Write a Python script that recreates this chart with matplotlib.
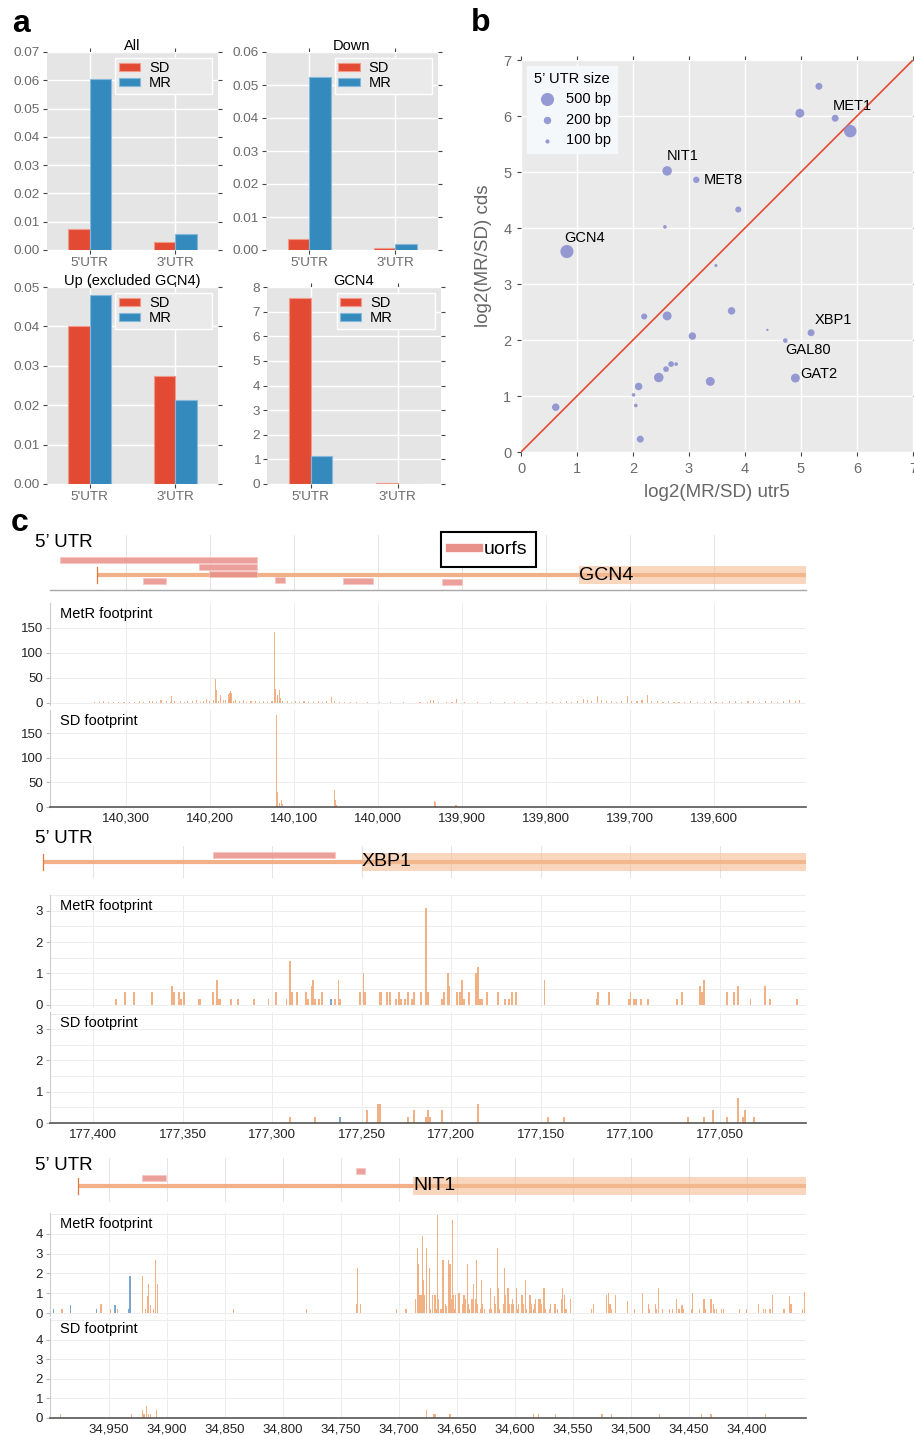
import numpy as np
import matplotlib
matplotlib.use('Agg')
import matplotlib.pyplot as plt
from matplotlib.patches import Rectangle
from matplotlib.lines import Line2D

plt.rcParams['font.family'] = ['Liberation Sans', 'DejaVu Sans']

W, H = 914, 1435

# ---------------- panel a : bar values
CATS = ["5'UTR", "3'UTR"]
ALL_SD = [0.0073, 0.0027]
ALL_MR = [0.0603, 0.0055]
DOWN_SD = [0.0032, 0.0005]
DOWN_MR = [0.0525, 0.0017]
UP_SD = [0.0400, 0.0275]
UP_MR = [0.0479, 0.0213]
GCN4_SD = [7.57, 0.04]
GCN4_MR = [1.12, 0.0]

# ---------------- panel b : scatter values
UTR5 = [0.82, 0.62, 2.61, 3.13, 3.88, 2.57, 3.48, 2.20, 2.61, 3.76,
        3.06, 4.40, 4.72, 5.18, 4.90, 3.38, 2.46, 2.10, 2.59, 2.68,
        2.77, 2.01, 2.05, 2.13, 4.98, 5.32, 5.61, 5.88]
CDS = [3.58, 0.80, 5.02, 4.86, 4.33, 4.02, 3.33, 2.42, 2.43, 2.52,
       2.07, 2.18, 1.99, 2.13, 1.32, 1.26, 1.33, 1.17, 1.48, 1.57,
       1.57, 1.02, 0.83, 0.23, 6.05, 6.53, 5.96, 5.73]
UTR_BP = [500, 200, 290, 160, 150, 90, 80, 150, 260, 200,
          200, 70, 110, 180, 260, 260, 290, 200, 140, 140,
          90, 90, 90, 180, 260, 180, 180, 460]
NAMES = ['GCN4', '', 'NIT1', 'MET8', '', '', '', '', '', '',
         '', '', 'GAL80', 'XBP1', 'GAT2', '', '', '', '', '',
         '', '', '', '', '', '', 'MET1', '']
SIZE_KEYS = [500, 200, 100]

# ---------------- panel c : gene models
GCN4_XLIM = (140390, 139491)
GCN4_TSS, GCN4_CDS = 140334, 139761
GCN4_U_START = [140378, 140213, 140201, 140279, 140123, 140042, 139924]
GCN4_U_END = [140144, 140144, 140144, 140252, 140110, 140006, 139900]
GCN4_U_LEVEL = [2.1, 1.1, 0.1, -0.9, -0.7, -0.9, -1.0]

XBP1_XLIM = (177424, 177002)
XBP1_TSS, XBP1_CDS = 177428, 177250
XBP1_U_START = [177333]
XBP1_U_END = [177265]
XBP1_U_LEVEL = [0.95]

NIT1_XLIM = (35001, 34349)
NIT1_TSS, NIT1_CDS = 34977, 34688
NIT1_U_START = [34922, 34737]
NIT1_U_END = [34901, 34729]
NIT1_U_LEVEL = [1.15, 2.1]

# ---------------- panel c : footprints (position, value)
GCN4_METR = [
    (140337, 2), (140331, 1), (140326, 3), (140320, 2), (140314, 1), (140309, 2), (140302, 1), (140296, 2),
    (140290, 1), (140284, 3), (140279, 2), (140272, 4), (140268, 3), (140263, 2), (140258, 5), (140252, 3),
    (140247, 2), (140245, 13), (140242, 4), (140235, 3), (140230, 2), (140226, 4), (140221, 3), (140216, 5),
    (140211, 2), (140207, 4), (140204, 8), (140200, 3), (140196, 6), (140193, 47), (140192, 25), (140190, 4),
    (140187, 15), (140184, 6), (140181, 5), (140178, 17), (140177, 8), (140176, 19), (140175, 23), (140174, 19),
    (140172, 4), (140169, 6), (140165, 3), (140160, 5), (140156, 2), (140151, 4), (140146, 3), (140141, 2),
    (140136, 3), (140131, 1), (140126, 4), (140123, 141), (140122, 28), (140120, 15), (140119, 11), (140117, 25),
    (140116, 10), (140113, 3), (140108, 4), (140103, 2), (140098, 3), (140093, 1), (140088, 3), (140083, 2),
    (140077, 1), (140071, 3), (140066, 2), (140061, 4), (140055, 11), (140052, 3), (140046, 2), (140040, 1),
    (140033, 2), (140026, 1), (140012, 1), (139998, 1), (139985, 2), (139970, 1), (139950, 1), (139941, 2),
    (139937, 5), (139934, 6), (139928, 2), (139919, 1), (139912, 2), (139907, 7), (139897, 1), (139882, 1),
    (139866, 1), (139850, 2), (139838, 1), (139822, 2), (139812, 1), (139800, 2), (139792, 1), (139783, 2),
    (139776, 3), (139770, 2), (139763, 4), (139756, 8), (139751, 5), (139746, 4), (139739, 13), (139734, 5),
    (139728, 3), (139722, 4), (139716, 2), (139710, 3), (139703, 13), (139698, 4), (139692, 3), (139686, 5),
    (139680, 15), (139675, 4), (139668, 3), (139661, 2), (139655, 3), (139648, 2), (139642, 1), (139636, 2),
    (139628, 3), (139620, 2), (139612, 1), (139605, 3), (139598, 2), (139590, 2), (139582, 4), (139575, 3),
    (139568, 2), (139560, 3), (139553, 4), (139546, 2), (139539, 3), (139532, 4), (139525, 2), (139518, 3),
    (139511, 5), (139504, 3), (139499, 6),
]
GCN4_SDFP = [
    (140230, 1), (140205, 1), (140185, 1), (140121, 187), (140119, 30), (140117, 8), (140115, 15), (140113, 7),
    (140052, 34), (140050, 15), (140049, 5), (139933, 13), (139932, 11), (139908, 5), (139907, 4), (139756, 2),
    (139690, 1), (139600, 1),
]

XBP1_METR_POS = [
    177387, 177382, 177377, 177367, 177356, 177355, 177352, 177351, 177349, 177341,
    177340, 177333, 177331, 177330, 177329, 177323, 177319, 177310, 177302, 177298,
    177292, 177290, 177289, 177286, 177281, 177280, 177278, 177277, 177276, 177274,
    177272, 177265, 177263, 177262, 177251, 177249, 177248, 177240, 177239, 177236,
    177234, 177231, 177229, 177228, 177226, 177224, 177222, 177221, 177217, 177214,
    177213, 177205, 177204, 177202, 177201, 177197, 177195, 177194, 177193, 177190,
    177186, 177185, 177184, 177183, 177180, 177174, 177170, 177168, 177166, 177164,
    177148, 177119, 177118, 177112, 177101, 177100, 177098, 177097, 177094, 177090,
    177074, 177071, 177061, 177060, 177059, 177046, 177042, 177040, 177033, 177025,
    177022, 177007]
XBP1_METR_VAL = [
    0.2, 0.4, 0.4, 0.4, 0.6, 0.4, 0.4, 0.2, 0.4, 0.2,
    0.2, 0.4, 0.8, 0.2, 0.2, 0.2, 0.2, 0.2, 0.2, 0.4,
    0.2, 1.4, 0.4, 0.4, 0.4, 0.2, 0.6, 0.8, 0.2, 0.2,
    0.4, 0.2, 0.8, 0.2, 0.4, 1.0, 0.4, 0.4, 0.4, 0.4,
    0.4, 0.2, 0.4, 0.2, 0.2, 0.4, 0.2, 0.4, 0.4, 3.1,
    0.4, 0.2, 0.4, 1.0, 0.6, 0.4, 0.4, 0.8, 0.2, 0.4,
    1.0, 1.2, 0.2, 0.2, 0.4, 0.4, 0.2, 0.2, 0.4, 0.4,
    0.8, 0.2, 0.4, 0.4, 0.2, 0.4, 0.2, 0.2, 0.2, 0.2,
    0.2, 0.4, 0.6, 0.4, 0.8, 0.4, 0.4, 0.6, 0.2, 0.6,
    0.2, 0.2]
XBP1_METR_BLUE = [(177267, 0.2)]
XBP1_SD_POS = [177290, 177276, 177247, 177241, 177240, 177224, 177221, 177214, 177213, 177212,
               177205, 177185, 177146, 177137, 177068, 177059, 177054, 177046, 177040, 177037,
               177036, 177031]
XBP1_SD_VAL = [0.2, 0.2, 0.4, 0.6, 0.6, 0.2, 0.4, 0.2, 0.4, 0.2,
               0.4, 0.6, 0.2, 0.2, 0.2, 0.2, 0.4, 0.2, 0.8, 0.2,
               0.4, 0.2]
XBP1_SD_BLUE = [(177262, 0.2)]

NIT1_METR = [
    (34991, 0.2), (34990, 0.2), (34957, 0.45), (34949, 0.2), (34943, 0.2), (34921, 1.85), (34919, 0.2),
    (34917, 0.85), (34916, 1.45), (34914, 0.4), (34912, 0.2), (34910, 2.7), (34908, 1.45), (34843, 0.2),
    (34780, 0.2), (34737, 0.45), (34736, 2.3), (34733, 0.45), (34702, 0.2),
    (34694, 0.2), (34686, 0.7), (34684, 3.3), (34683, 2.5), (34682, 0.9), (34681, 0.9), (34680, 3.9),
    (34679, 1.65), (34678, 0.9), (34676, 3.3), (34674, 2.3), (34673, 0.2), (34671, 0.9), (34669, 0.9),
    (34668, 0.2), (34667, 4.95), (34666, 0.7), (34664, 0.2), (34663, 0.2), (34662, 2.7), (34660, 0.45),
    (34659, 0.35), (34657, 2.7), (34656, 2.5), (34655, 0.7), (34654, 4.7), (34653, 0.9), (34652, 0.2),
    (34651, 0.9), (34649, 1.0), (34648, 1.0), (34645, 0.45), (34644, 0.9), (34643, 0.7), (34641, 2.5),
    (34640, 0.45), (34639, 0.2), (34637, 0.7), (34636, 1.45), (34634, 0.7), (34633, 2.7), (34632, 0.45),
    (34630, 0.2), (34629, 1.65), (34628, 0.45), (34626, 0.2), (34622, 0.2), (34621, 1.25), (34620, 0.2),
    (34618, 0.85), (34617, 0.45), (34615, 3.3), (34614, 1.25), (34613, 0.2), (34610, 0.45), (34609, 2.3),
    (34608, 0.9), (34606, 1.25), (34605, 0.45), (34603, 0.45), (34602, 0.7), (34601, 0.45), (34599, 1.25),
    (34598, 0.2), (34597, 0.45), (34594, 0.9), (34593, 0.45), (34591, 1.65), (34590, 0.2), (34587, 0.9),
    (34586, 0.45), (34584, 0.2), (34583, 0.45), (34582, 0.7), (34580, 0.7), (34579, 0.7), (34578, 0.7),
    (34577, 0.45), (34575, 1.25), (34574, 0.2), (34570, 0.2), (34569, 0.45), (34566, 0.45), (34565, 0.45),
    (34563, 0.2), (34560, 0.7), (34559, 1.25), (34557, 0.9), (34556, 0.2), (34552, 0.7), (34534, 0.2),
    (34532, 0.45), (34521, 0.9), (34519, 1.0), (34518, 0.45), (34517, 0.2), (34513, 0.9), (34503, 0.6),
    (34497, 0.2), (34490, 1.0), (34485, 0.45), (34484, 0.2), (34479, 0.45), (34478, 0.2), (34476, 1.25),
    (34473, 0.2), (34467, 0.2), (34464, 0.2), (34461, 0.7), (34459, 0.2), (34458, 0.2), (34456, 0.4),
    (34455, 0.2), (34448, 0.2), (34447, 1.0), (34441, 0.2), (34437, 0.7), (34436, 0.2), (34431, 0.7),
    (34429, 0.45), (34428, 0.2), (34426, 0.2), (34422, 0.2), (34420, 0.2), (34406, 0.2), (34400, 0.2),
    (34390, 0.45), (34386, 0.2), (34384, 0.2), (34380, 0.2), (34378, 0.9), (34368, 0.2), (34363, 0.85),
    (34362, 0.45), (34352, 0.2), (34350, 1.05),
]
NIT1_METR_BLUE = [(34998, 0.2), (34983, 0.4), (34961, 0.2), (34945, 0.4), (34933, 0.2), (34932, 1.85)]
NIT1_SDFP = [
    (34992, 0.2), (34931, 0.2), (34921, 0.4), (34920, 0.2), (34918, 0.63), (34916, 0.2), (34914, 0.2),
    (34909, 0.42), (34676, 0.42), (34670, 0.2), (34669, 0.2), (34656, 0.2), (34584, 0.2), (34580, 0.2),
    (34565, 0.2), (34525, 0.2), (34517, 0.2), (34475, 0.2), (34439, 0.2), (34431, 0.2), (34384, 0.2),
]

RED, BLUE = '#E24A33', '#348ABD'
UTR_C, TSS_C, CDS_C = '#F2B088', '#E07A3C', '#F5BC93'
UORF_C, BAR_C, BAR_BLUE = '#E8908A', '#EFA46E', '#6F9DC9'

fig = plt.figure(figsize=(W / 100, H / 100), dpi=100)


def px_axes(x0, y0, x1, y1):
    return fig.add_axes([x0 / W, 1 - y1 / H, (x1 - x0) / W, (y1 - y0) / H])


def gg_style(ax, face, labelsize, pad=2):
    ax.set_facecolor(face)
    ax.grid(True, color='white', lw=1.0)
    ax.set_axisbelow(True)
    for s in ax.spines.values():
        s.set_visible(False)
    ax.tick_params(direction='out', length=3, width=0.8, color='#444444', labelcolor='#6A6A6A',
                   top=True, right=True, labelsize=labelsize, pad=pad)


# ================= a
bar_specs = [('All', ALL_SD, ALL_MR, 0.07, 0.01, '%.2f', (47, 52, 218, 250)),
             ('Down', DOWN_SD, DOWN_MR, 0.06, 0.01, '%.2f', (266, 52, 438, 250)),
             ('Up (excluded GCN4)', UP_SD, UP_MR, 0.05, 0.01, '%.2f', (47, 287, 218, 484)),
             ('GCN4', GCN4_SD, GCN4_MR, 8, 1, '%d', (267, 287, 441, 484))]
for title, sd, mr, ymax, ystep, fmt, box in bar_specs:
    ax = px_axes(*box)
    gg_style(ax, '#E5E5E5', 9.7)
    x = np.arange(len(CATS))
    ax.bar(x - 0.125, sd, 0.25, color=RED, edgecolor='#F09A8A', lw=0.8, label='SD')
    ax.bar(x + 0.125, mr, 0.25, color=BLUE, edgecolor='#86B8DA', lw=0.8, label='MR')
    ax.set_xlim(-0.5, 1.5)
    ax.set_ylim(0, ymax)
    ax.set_xticks(x)
    ax.set_xticklabels(CATS)
    ax.set_yticks(np.arange(0, ymax + ystep / 2, ystep))
    ax.yaxis.set_major_formatter(matplotlib.ticker.FormatStrFormatter(fmt))
    ax.set_title(title, fontsize=10.5, pad=1.5)
    ax.legend(loc='upper left', bbox_to_anchor=(0.40, 0.0, 0.565, 0.972), mode='expand',
              fontsize=10.5, fancybox=False, framealpha=1, facecolor='#EAEAEA', edgecolor='white',
              handlelength=1.45, handleheight=0.5, borderpad=0.25, labelspacing=0.05,
              handletextpad=0.6, borderaxespad=0)

fig.text(12 / W, 1 - 32 / H, 'a', fontsize=23, fontweight='bold')
fig.text(471 / W, 1 - 31 / H, 'b', fontsize=23, fontweight='bold')
fig.text(11 / W, 1 - 531 / H, 'c', fontsize=23, fontweight='bold')

# ================= b
def dot_size(bp):
    return max(0.2 * bp - 11, 3)


ax = px_axes(521, 60, 913, 452)
gg_style(ax, '#EAEAEA', 10.5, pad=4)
ax.plot([0, 7], [0, 7], color=RED, lw=1.2, zorder=2)
ax.scatter(UTR5, CDS, s=[dot_size(b) for b in UTR_BP], color='#8C90D0', alpha=0.9, lw=0, zorder=3)
label_offsets = {'GCN4': (-2, 5, 'left', 'bottom'), 'NIT1': (0, 5.5, 'left', 'bottom'),
                 'MET8': (5.5, 0, 'left', 'center'), 'MET1': (-1.5, 3.5, 'left', 'bottom'),
                 'XBP1': (2.4, 4, 'left', 'bottom'), 'GAL80': (0, -1.5, 'left', 'top'),
                 'GAT2': (3.6, 3.2, 'left', 'center')}
for xv, yv, nm in zip(UTR5, CDS, NAMES):
    if nm:
        dx, dy, ha, va = label_offsets[nm]
        ax.annotate(nm, (xv, yv), xytext=(dx, dy), textcoords='offset points',
                    ha=ha, va=va, fontsize=10.5, zorder=4)
for bp in SIZE_KEYS:
    ax.scatter([], [], s=dot_size(bp), color='#8C90D0', alpha=0.9, lw=0, label='%d bp' % bp)
ax.legend(loc='upper left', title='5’ UTR size', fontsize=10.5, title_fontsize=10.5,
          fancybox=False, framealpha=1, facecolor='#F5F8FA', edgecolor='#F5F8FA',
          borderpad=0.4, labelspacing=0.45, handletextpad=0.3, borderaxespad=0.4)
ax.set_xlim(0, 7)
ax.set_ylim(0, 7)
ax.set_xticks(range(8))
ax.set_yticks(range(8))
ax.set_xlabel('log2(MR/SD) utr5', fontsize=13.5, color='#666666', labelpad=6)
ax.set_ylabel('log2(MR/SD) cds', fontsize=13.5, color='#666666', labelpad=8)

# ================= c
def gene_track(box, xlim, ylim, xticks, tss, cds, name, u_start, u_end, u_level, baseline=False):
    ax = px_axes(*box)
    ax.set_xlim(xlim)
    ax.set_ylim(ylim)
    ax.set_xticks(xticks)
    ax.set_yticks([])
    ax.tick_params(length=0, labelbottom=False)
    ax.grid(axis='x', color='#E4E4E4', lw=0.7)
    ax.set_axisbelow(True)
    for s in ax.spines.values():
        s.set_visible(False)
    if baseline:
        ax.spines['bottom'].set_visible(True)
        ax.spines['bottom'].set_color('#A8A8A8')
        ax.spines['bottom'].set_linewidth(1.0)
    ax.plot([tss, xlim[1]], [0, 0], color=UTR_C, lw=3, solid_capstyle='butt', clip_on=False, zorder=2)
    ax.plot([tss, tss], [-1.2, 1.2], color=TSS_C, lw=0.9, clip_on=False, zorder=3)
    ax.add_patch(Rectangle((cds, -1.25), xlim[1] - cds, 2.5, facecolor=CDS_C, alpha=0.6, lw=0, zorder=3))
    for s, e, lv in zip(u_start, u_end, u_level):
        ax.add_patch(Rectangle((s, lv - 0.43), e - s, 0.86, facecolor=UORF_C, alpha=0.85,
                               edgecolor='#F6C6C0', lw=0.6, zorder=4))
    ax.text(cds, 0, name, ha='left', va='center', fontsize=14, zorder=5)
    return ax


def footprint(box, xlim, ylim, xticks, yticks, ygrid, label, pos, val, blue=(), bottom=False, bw=1.0):
    ax = px_axes(*box)
    ax.bar(pos, val, width=bw, color=BAR_C, alpha=0.85, lw=0, zorder=2)
    if blue:
        bp, bv = zip(*blue)
        ax.bar(bp, bv, width=bw, color=BAR_BLUE, alpha=0.9, lw=0, zorder=2)
    ax.set_xlim(xlim)
    ax.set_ylim(ylim)
    ax.set_xticks(xticks)
    ax.set_xticklabels(['{:,}'.format(t) for t in xticks])
    ax.set_yticks(yticks)
    ax.set_yticks(ygrid, minor=True)
    ax.grid(which='both', color='#EDEDED', lw=0.7)
    ax.set_axisbelow(True)
    ax.tick_params(axis='x', length=0, labelsize=9.5, pad=4, labelbottom=bottom, labelcolor='#222222')
    ax.tick_params(axis='y', which='major', length=3, color='#BBBBBB', labelsize=9.5, pad=2,
                   labelcolor='#222222')
    ax.tick_params(axis='y', which='minor', length=0)
    for k in ('top', 'right'):
        ax.spines[k].set_visible(False)
    ax.spines['left'].set_color('#CCCCCC')
    ax.spines['left'].set_linewidth(0.8)
    if bottom:
        ax.spines['bottom'].set_color('#555555')
        ax.spines['bottom'].set_linewidth(1.2)
    else:
        ax.spines['bottom'].set_visible(False)
    hpx = box[3] - box[1]
    ax.text(0.013, 1 - 11 / hpx, label, transform=ax.transAxes, fontsize=10.5, va='center')
    return ax


# GCN4 block
gcn4_ticks = list(range(140300, 139550, -100))
fig.text(35 / W, 1 - 542 / H, '5’ UTR', fontsize=13.5, va='center')
gene_track((50, 535, 806, 590), GCN4_XLIM, (-2.14, 5.71), gcn4_ticks, GCN4_TSS, GCN4_CDS, 'GCN4',
           GCN4_U_START, GCN4_U_END, GCN4_U_LEVEL, baseline=True)
p, v = zip(*GCN4_METR)
footprint((50, 603, 806, 705), GCN4_XLIM, (-5, 200), gcn4_ticks, [0, 50, 100, 150], [],
          'MetR footprint', p, v, bw=1.3)
p, v = zip(*GCN4_SDFP)
footprint((50, 710, 806, 807), GCN4_XLIM, (0, 197), gcn4_ticks, [0, 50, 100, 150], [],
          'SD footprint', p, v, bottom=True, bw=1.3)
fig.legend(handles=[Line2D([0], [0], color=UORF_C, lw=6)], labels=['uorfs'], loc='upper left',
           bbox_to_anchor=(441 / W, 1 - 532 / H), fontsize=14, fancybox=False, framealpha=1,
           edgecolor='black', handlelength=1.5, handletextpad=0.25, borderpad=0.45,
           borderaxespad=0).get_frame().set_linewidth(1.5)

# XBP1 block
xbp1_ticks = list(range(177400, 177000, -50))
fig.text(35 / W, 1 - 838 / H, '5’ UTR', fontsize=13.5, va='center')
gene_track((50, 846, 806, 878), XBP1_XLIM, (-2.29, 2.29), xbp1_ticks, XBP1_TSS, XBP1_CDS, 'XBP1',
           XBP1_U_START, XBP1_U_END, XBP1_U_LEVEL)
footprint((50, 895, 806, 1008), XBP1_XLIM, (-0.1, 3.5), xbp1_ticks, [0, 1, 2, 3],
          [0.5, 1.5, 2.5, 3.5], 'MetR footprint', XBP1_METR_POS, XBP1_METR_VAL, XBP1_METR_BLUE)
footprint((50, 1012, 806, 1123), XBP1_XLIM, (0, 3.55), xbp1_ticks, [0, 1, 2, 3],
          [0.5, 1.5, 2.5, 3.5], 'SD footprint', XBP1_SD_POS, XBP1_SD_VAL, XBP1_SD_BLUE, bottom=True)

# NIT1 block
nit1_ticks = list(range(34950, 34350, -50))
fig.text(35 / W, 1 - 1166 / H, '5’ UTR', fontsize=13.5, va='center')
gene_track((50, 1158, 806, 1202), NIT1_XLIM, (-2.29, 4.0), nit1_ticks, NIT1_TSS, NIT1_CDS, 'NIT1',
           NIT1_U_START, NIT1_U_END, NIT1_U_LEVEL)
p, v = zip(*NIT1_METR)
footprint((50, 1213, 806, 1316), NIT1_XLIM, (-0.15, 5.06), nit1_ticks, [0, 1, 2, 3, 4], [5],
          'MetR footprint', p, v, NIT1_METR_BLUE)
p, v = zip(*NIT1_SDFP)
footprint((50, 1318, 806, 1418), NIT1_XLIM, (0, 5.1), nit1_ticks, [0, 1, 2, 3, 4], [5],
          'SD footprint', p, v, bottom=True)

fig.savefig('out.png', dpi=100)
